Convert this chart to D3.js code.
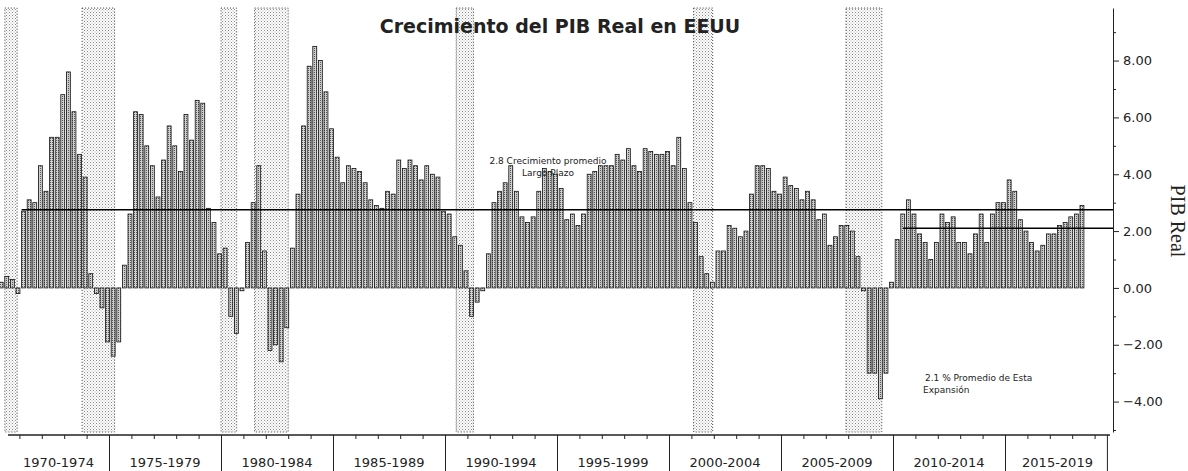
<!DOCTYPE html>
<html>
<head>
<meta charset="utf-8">
<script src="https://cdn.jsdelivr.net/npm/d3@7"></script>
<style>
  body { margin: 0; background: #fff; }
  svg { display: block; }
</style>
</head>
<body>
<svg id="chart" width="1188" height="471"></svg>
<script>
// crecimiento interanual del PIB real, trimestral desde 1970T1
var startYear = 1970;
var growth = [
  0.2, 0.4, 0.3, -0.2,   // 1970
  2.7, 3.1, 3.0, 4.3,    // 1971
  3.4, 5.3, 5.3, 6.8,    // 1972
  7.6, 6.2, 4.7, 3.9,    // 1973
  0.5, -0.2, -0.7, -1.9, // 1974
  -2.4, -1.9, 0.8, 2.6,  // 1975
  6.2, 6.1, 5.0, 4.3,    // 1976
  3.2, 4.5, 5.7, 5.0,    // 1977
  4.1, 6.1, 5.2, 6.6,    // 1978
  6.5, 2.8, 2.3, 1.2,    // 1979
  1.4, -1.0, -1.6, -0.1, // 1980
  1.6, 3.0, 4.3, 1.3,    // 1981
  -2.2, -2.0, -2.6, -1.4,// 1982
  1.4, 3.3, 5.7, 7.8,    // 1983
  8.5, 8.0, 6.9, 5.6,    // 1984
  4.6, 3.7, 4.3, 4.2,    // 1985
  4.1, 3.7, 3.1, 2.9,    // 1986
  2.8, 3.4, 3.3, 4.5,    // 1987
  4.2, 4.5, 4.3, 3.8,    // 1988
  4.3, 4.0, 3.9, 2.7,    // 1989
  2.6, 1.8, 1.5, 0.6,    // 1990
  -1.0, -0.5, -0.1, 1.2, // 1991
  3.0, 3.4, 3.7, 4.3,    // 1992
  3.4, 2.5, 2.3, 2.5,    // 1993
  3.4, 4.2, 4.1, 4.0,    // 1994
  3.5, 2.4, 2.6, 2.2,    // 1995
  2.6, 4.0, 4.1, 4.3,    // 1996
  4.3, 4.3, 4.7, 4.5,    // 1997
  4.9, 4.3, 4.1, 4.9,    // 1998
  4.8, 4.7, 4.7, 4.8,    // 1999
  4.3, 5.3, 4.2, 3.0,    // 2000
  2.3, 1.1, 0.5, 0.2,    // 2001
  1.3, 1.3, 2.2, 2.1,    // 2002
  1.8, 2.0, 3.3, 4.3,    // 2003
  4.3, 4.2, 3.4, 3.3,    // 2004
  3.9, 3.6, 3.5, 3.1,    // 2005
  3.4, 3.1, 2.4, 2.6,    // 2006
  1.5, 1.8, 2.2, 2.2,    // 2007
  2.0, 1.1, -0.1, -3.0,  // 2008
  -3.0, -3.9, -3.0, 0.2, // 2009
  1.7, 2.6, 3.1, 2.6,    // 2010
  1.9, 1.6, 1.0, 1.6,    // 2011
  2.6, 2.3, 2.5, 1.6,    // 2012
  1.6, 1.2, 1.9, 2.6,    // 2013
  1.6, 2.6, 3.0, 3.0,    // 2014
  3.8, 3.4, 2.4, 2.0,    // 2015
  1.6, 1.3, 1.5, 1.9,    // 2016
  1.9, 2.2, 2.3, 2.5,    // 2017
  2.6, 2.9               // 2018
];

var periodLabels = ["1970-1974", "1975-1979", "1980-1984", "1985-1989", "1990-1994",
                    "1995-1999", "2000-2004", "2005-2009", "2010-2014", "2015-2019"];
var periodStarts = [1970, 1975, 1980, 1985, 1990, 1995, 2000, 2005, 2010, 2015];

// recesiones (sombreado), en años decimales
var recessionStart = [1970.35, 1973.8, 1980.0, 1981.5, 1990.5, 2001.1, 2007.9];
var recessionEnd   = [1970.9, 1975.25, 1980.7, 1983.0, 1991.27, 2001.95, 2009.5];

var longRunAvg = 2.75;
var longRunFrom = 1971.1;
var expansionAvg = 2.1;
var expansionFrom = 2010.45;

var yTicks = [-4, -2, 0, 2, 4, 6, 8];
var yMinor = [-5, -3, -1, 1, 3, 5, 7, 9];

var svg = d3.select('#chart');
var axisX = 1113, baseY = 435;

var x = d3.scaleLinear().domain([1970, 2020]).range([-3, 1117]);
var y = d3.scaleLinear().domain([-5.07, 9.85]).range([432, 8]);

var defs = svg.append('defs');

// punteado del sombreado
var dots = defs.append('pattern').attr('id', 'dots')
  .attr('width', 3).attr('height', 3).attr('patternUnits', 'userSpaceOnUse');
dots.append('rect').attr('width', 3).attr('height', 3).attr('fill', '#fff');
dots.append('rect').attr('x', 0).attr('y', 0).attr('width', 1).attr('height', 1).attr('fill', '#888');
dots.append('rect').attr('x', 1.5).attr('y', 1.5).attr('width', 1).attr('height', 1).attr('fill', '#aaa');

// trama de las barras
var hatch = defs.append('pattern').attr('id', 'hatch')
  .attr('width', 2).attr('height', 2).attr('patternUnits', 'userSpaceOnUse');
hatch.append('rect').attr('width', 2).attr('height', 2).attr('fill', '#d0d0d0');
hatch.append('rect').attr('x', 0).attr('y', 0).attr('width', 1).attr('height', 1).attr('fill', '#555');

// sombreado de recesiones
svg.append('g').selectAll('rect')
  .data(recessionStart)
  .enter()
  .append('rect')
  .attr('x', (d) => x(d))
  .attr('width', (d, i) => x(recessionEnd[i]) - x(d))
  .attr('y', y.range()[1])
  .attr('height', y.range()[0] - y.range()[1])
  .attr('fill', 'url(#dots)')
  .attr('stroke', '#444')
  .attr('stroke-width', 1)
  .attr('stroke-dasharray', '1,2');

// barras
var slot = x(1970.25) - x(1970);
svg.append('g').selectAll('rect')
  .data(growth)
  .enter()
  .append('rect')
  .attr('x', (d, i) => x(startYear + i / 4) + 2.2)
  .attr('width', slot * 0.7)
  .attr('y', (d) => y(Math.max(0, d)))
  .attr('height', (d) => Math.abs(y(d) - y(0)))
  .attr('fill', 'url(#hatch)')
  .attr('stroke', '#111')
  .attr('stroke-width', 0.8);

// promedios
svg.append('line')
  .attr('x1', x(longRunFrom)).attr('x2', axisX)
  .attr('y1', y(longRunAvg)).attr('y2', y(longRunAvg))
  .attr('stroke', '#000').attr('stroke-width', 1.6);
svg.append('line')
  .attr('x1', x(expansionFrom)).attr('x2', axisX)
  .attr('y1', y(expansionAvg)).attr('y2', y(expansionAvg))
  .attr('stroke', '#000').attr('stroke-width', 1.6);

var note = svg.append('g').style('font-family', 'DejaVu Sans').style('font-size', '9px').attr('fill', '#222');
note.append('text').attr('x', 548).attr('y', 164).attr('text-anchor', 'middle').text('2.8 Crecimiento promedio');
note.append('text').attr('x', 548).attr('y', 176).attr('text-anchor', 'middle').text('Largo Plazo');
note.append('text').attr('x', 925).attr('y', 381).text(expansionAvg.toFixed(1) + ' % Promedio de Esta');
note.append('text').attr('x', 923).attr('y', 393).text('Expansión');

// eje derecho
var yAxis = svg.append('g')
  .attr('transform', 'translate(' + axisX + ',0)')
  .call(d3.axisRight(y).tickValues(yTicks).tickFormat(d3.format('.2f')).tickSize(6).tickSizeOuter(0).tickPadding(4));
yAxis.select('.domain').attr('stroke', '#222');
yAxis.selectAll('line').attr('stroke', '#222');
yAxis.selectAll('text').style('font-family', 'DejaVu Sans').style('font-size', '13px').attr('fill', '#222');

svg.append('g')
  .attr('transform', 'translate(' + axisX + ',0)')
  .call(d3.axisRight(y).tickValues(yMinor).tickFormat('').tickSize(3).tickSizeOuter(0))
  .call((g) => g.select('.domain').remove())
  .selectAll('line').attr('stroke', '#222');

svg.append('text')
  .attr('transform', 'translate(1171,221) rotate(90)')
  .attr('text-anchor', 'middle')
  .style('font-family', 'Liberation Serif')
  .style('font-size', '20px')
  .attr('fill', '#222')
  .text('PIB Real');

// eje inferior
var years = d3.range(1971, 2020);
var xAxis = svg.append('g')
  .attr('transform', 'translate(0,' + baseY + ')')
  .call(d3.axisBottom(x).tickValues(years).tickFormat('').tickSize(4));
xAxis.select('.domain').remove();
xAxis.selectAll('line').attr('stroke', '#222');
svg.append('line')
  .attr('x1', 8).attr('x2', 1110)
  .attr('y1', baseY).attr('y2', baseY)
  .attr('stroke', '#222').attr('stroke-width', 1.4);

var sepAxis = svg.append('g')
  .attr('transform', 'translate(0,' + baseY + ')')
  .call(d3.axisBottom(x).tickValues(periodStarts.slice(1).concat([2019.55])).tickFormat('').tickSize(36));
sepAxis.select('.domain').remove();
sepAxis.selectAll('line').attr('stroke', '#222');

svg.append('g').selectAll('text')
  .data(periodLabels)
  .enter()
  .append('text')
  .attr('x', (d, i) => {
    var a = Math.max(x(periodStarts[i]), 8);
    var b = Math.min(x(periodStarts[i] + 5), 1110);
    return (a + b) / 2;
  })
  .attr('y', 467)
  .attr('text-anchor', 'middle')
  .style('font-family', 'DejaVu Sans')
  .style('font-size', '13px')
  .attr('fill', '#222')
  .text((d) => d);

// título
svg.append('text')
  .attr('x', 560).attr('y', 33)
  .attr('text-anchor', 'middle')
  .style('font-family', 'DejaVu Sans')
  .style('font-weight', 'bold')
  .style('font-size', '19px')
  .attr('fill', '#222')
  .text('Crecimiento del PIB Real en EEUU');
</script>
</body>
</html>
